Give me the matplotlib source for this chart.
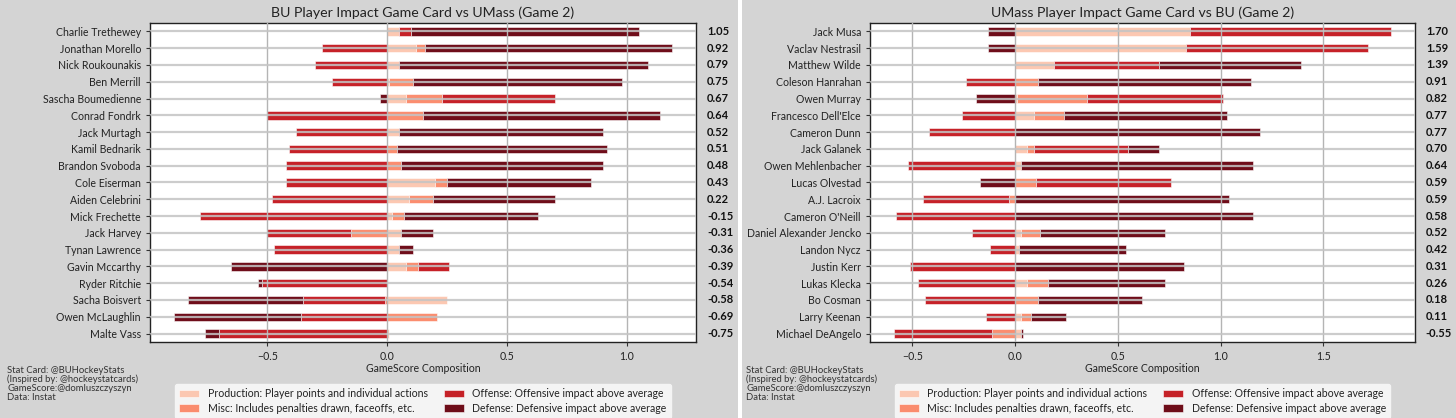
import numpy as np
import matplotlib
matplotlib.use("Agg")
import matplotlib.pyplot as plt
from matplotlib.patches import Rectangle

plt.rcParams['font.family'] = ['Lato', 'DejaVu Sans']

# BU players vs UMass
bu_names = ["Charlie Trethewey", "Jonathan Morello", "Nick Roukounakis", "Ben Merrill",
            "Sascha Boumedienne", "Conrad Fondrk", "Jack Murtagh", "Kamil Bednarik",
            "Brandon Svoboda", "Cole Eiserman", "Aiden Celebrini", "Mick Frechette",
            "Jack Harvey", "Tynan Lawrence", "Gavin Mccarthy", "Ryder Ritchie",
            "Sacha Boisvert", "Owen McLaughlin", "Malte Vass"]
bu_prod = [0.05, 0.12, 0.05, 0.01, 0.08, 0.00, 0.05, 0.00, 0.00, 0.20,
           0.09, 0.02, 0.06, 0.05, 0.08, 0.00, 0.25, 0.00, 0.01]
bu_misc = [0.00, 0.04, 0.00, 0.10, 0.15, 0.15, 0.00, 0.04, 0.06, 0.05,
           0.10, 0.05, -0.15, 0.00, 0.05, 0.00, -0.01, 0.21, 0.00]
bu_off = [0.05, -0.27, -0.30, -0.23, 0.47, -0.50, -0.38, -0.41, -0.42, -0.42,
          -0.48, -0.78, -0.35, -0.47, 0.13, -0.52, -0.34, -0.36, -0.70]
bu_def = [0.95, 1.03, 1.04, 0.87, -0.03, 0.99, 0.85, 0.88, 0.84, 0.60,
          0.51, 0.56, 0.13, 0.06, -0.65, -0.02, -0.48, -0.53, -0.06]
bu_total = ["1.05", "0.92", "0.79", "0.75", "0.67", "0.64", "0.52", "0.51", "0.48", "0.43",
            "0.22", "-0.15", "-0.31", "-0.36", "-0.39", "-0.54", "-0.58", "-0.69", "-0.75"]

# UMass players vs BU
um_names = ["Jack Musa", "Vaclav Nestrasil", "Matthew Wilde", "Coleson Hanrahan",
            "Owen Murray", "Francesco Dell'Elce", "Cameron Dunn", "Jack Galanek",
            "Owen Mehlenbacher", "Lucas Olvestad", "A.J. Lacroix", "Cameron O'Neill",
            "Daniel Alexander Jencko", "Landon Nycz", "Justin Kerr", "Lukas Klecka",
            "Bo Cosman", "Larry Keenan", "Michael DeAngelo"]
um_prod = [0.85, 0.83, 0.19, 0.00, 0.01, 0.09, 0.00, 0.06, 0.03, 0.00,
           0.00, 0.00, 0.03, 0.02, 0.00, 0.06, 0.00, 0.03, 0.03]
um_misc = [0.00, 0.00, 0.00, 0.11, 0.34, 0.15, 0.00, 0.03, 0.00, 0.10,
           -0.03, 0.00, 0.09, 0.00, 0.00, 0.10, 0.11, 0.05, -0.11]
um_off = [0.98, 0.89, 0.51, -0.24, 0.66, -0.26, -0.42, 0.46, -0.52, 0.66,
          -0.42, -0.58, -0.21, -0.12, -0.51, -0.47, -0.44, -0.14, -0.48]
um_def = [-0.13, -0.13, 0.69, 1.04, -0.19, 0.79, 1.19, 0.15, 1.13, -0.17,
          1.04, 1.16, 0.61, 0.52, 0.82, 0.57, 0.51, 0.17, 0.01]
um_total = ["1.70", "1.59", "1.39", "0.91", "0.82", "0.77", "0.77", "0.70", "0.64", "0.59",
            "0.59", "0.58", "0.52", "0.42", "0.31", "0.26", "0.18", "0.11", "-0.55"]

labels = ["Production: Player points and individual actions",
          "Misc: Includes penalties drawn, faceoffs, etc.",
          "Offense: Offensive impact above average",
          "Defense: Defensive impact above average"]
colors = ["#fcc5ae", "#fb8767", "#c3151c", "#67000d"]

credits = "Stat Card: @BUHockeyStats\n(Inspired by: @hockeystatcards)\nGameScore:@domluszczyszyn\nData: Instat"


def draw_card(ax, names, parts, totals, title):
    y = np.arange(len(names))
    pos = np.zeros(len(names))
    neg = np.zeros(len(names))
    # positive parts stack to the right of 0, negative ones to the left
    for vals, col, lab in zip(parts, colors, labels):
        v = np.array(vals)
        left = np.where(v >= 0, pos, neg)
        ax.barh(y, v, left=left, height=0.5, color=col, label=lab,
                edgecolor="#ffffff", linewidth=0.4, alpha=0.95, zorder=2)
        pos += np.where(v >= 0, v, 0)
        neg += np.where(v < 0, v, 0)
    ax.margins(x=0.048)
    ax.set_yticks(y)
    ax.set_yticklabels(names, fontsize=7.6, color="#222222")
    ax.set_ylim(len(names) - 0.5, -0.5)
    ax.tick_params(axis="x", labelsize=7.6, colors="#222222")
    ax.tick_params(axis="both", color="#333333", length=3)
    ax.set_axisbelow(False)
    ax.xaxis.grid(True, color="#b4b4b4", linewidth=1.0, zorder=3)
    ax.yaxis.grid(True, color="#c4c4c4", linewidth=1.6, alpha=0.85, zorder=3)
    for s in ax.spines.values():
        s.set_color("#222222")
        s.set_linewidth(1.0)
    ax.set_title(title, fontsize=10.2, color="#222222", pad=4)
    ax.set_xlabel("GameScore Composition", fontsize=7.6, color="#222222", labelpad=1)
    for yi, t in zip(y, totals):
        ax.text(1.02, yi, t, transform=ax.get_yaxis_transform(), fontsize=8,
                fontweight="bold", va="center", ha="left", color="#111111")
    leg = ax.legend(loc="upper center", bbox_to_anchor=(0.5, -0.115), ncol=2,
                    fontsize=7.6, frameon=True, facecolor="#f4f4f4", edgecolor="#f4f4f4",
                    framealpha=1, handlelength=1.9, columnspacing=1.5, borderpad=0.4,
                    labelspacing=0.35)
    for tx in leg.get_texts():
        tx.set_color("#222222")


fig = plt.figure(figsize=(14.56, 4.18), dpi=100, facecolor="#d4d4d4")
ax1 = fig.add_axes([0.103, 0.182, 0.375, 0.763])
ax2 = fig.add_axes([0.5975, 0.182, 0.3743, 0.763])

draw_card(ax1, bu_names, [bu_prod, bu_misc, bu_off, bu_def], bu_total,
          "BU Player Impact Game Card vs UMass (Game 2)")
draw_card(ax2, um_names, [um_prod, um_misc, um_off, um_def], um_total,
          "UMass Player Impact Game Card vs BU (Game 2)")

fig.text(0.005, 0.124, credits, fontsize=6.8, va="top", ha="left", color="#333333", linespacing=0.95)
fig.text(0.5125, 0.124, credits, fontsize=6.8, va="top", ha="left", color="#333333", linespacing=0.95)

# white divider between the two cards
fig.add_artist(Rectangle((0.5068, 0), 0.0025, 1, transform=fig.transFigure,
                         facecolor="white", edgecolor="none"))

fig.savefig("out.png", dpi=100, facecolor=fig.get_facecolor())
